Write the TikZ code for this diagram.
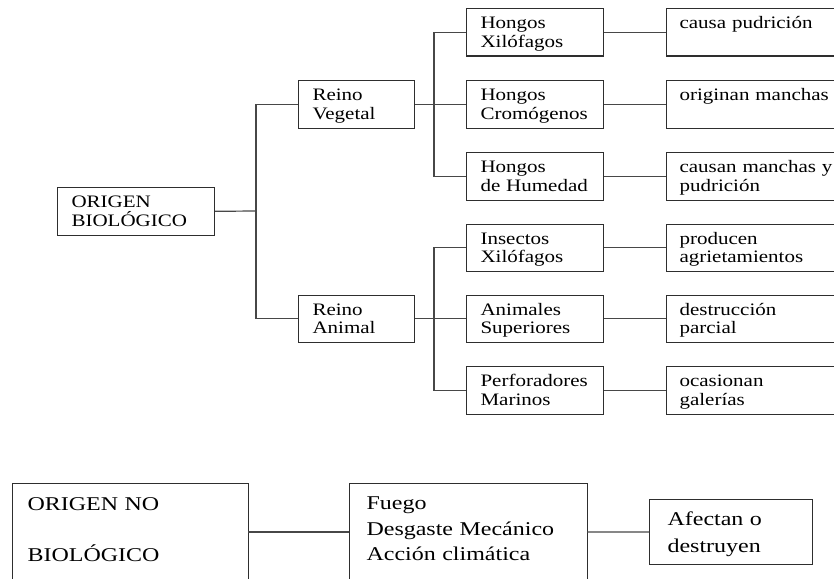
\documentclass[tikz,border=0pt]{standalone}
\usepackage{fontspec}
\setmainfont{Liberation Serif}[FakeStretch=1.2]
\newfontfamily\botfont{Liberation Serif}[FakeStretch=1.23]
\begin{document}
\begin{tikzpicture}[x=1pt,y=1pt,
  conn/.style={draw=black!72, line width=1.2pt},
  box/.style={draw=black!82, line width=1.1pt, anchor=north west, align=left,
    inner xsep=14pt, inner ysep=0pt, text height=20pt, text depth=27.5pt,
    font=\fontsize{17.5}{18.7}\selectfont},
  bbox/.style={draw=black!82, line width=1.1pt, anchor=north west, align=left,
    inner ysep=0pt, font=\botfont\fontsize{19.5}{25.5}\selectfont}
]
\useasboundingbox (0,0) rectangle (834,-578);
\clip (0,0) rectangle (834,-578);

% level 0
\node[box, text width=129pt] (ob) at (57,-187) {ORIGEN\\BIOLÓGICO};
% level 1
\node[box, text width=88pt] (rv) at (298,-80) {Reino\\Vegetal};
\node[box, text width=88pt] (ra) at (298,-294.5) {Reino\\Animal};
% level 2
\node[box, text width=109pt] (hx) at (466,-8) {Hongos\\Xilófagos};
\node[box, text width=109pt] (hc) at (466,-80) {Hongos\\Cromógenos};
\node[box, text width=109pt] (hh) at (466,-152) {Hongos\\de Humedad};
\node[box, text width=109pt] (ix) at (466,-223.5) {Insectos\\Xilófagos};
\node[box, text width=109pt] (as) at (466,-294.5) {Animales\\Superiores};
\node[box, text width=109pt] (pm) at (466,-366) {Perforadores\\Marinos};
% level 3
\node[box, inner xsep=13pt, text width=220pt] (e1) at (666,-8) {causa pudrición\\\mbox{}};
\node[box, inner xsep=13pt, text width=220pt] (e2) at (666,-80) {originan manchas\\\mbox{}};
\node[box, inner xsep=13pt, text width=220pt] (e3) at (666,-152) {causan manchas y\\pudrición};
\node[box, inner xsep=13pt, text width=220pt] (e4) at (666,-223.5) {producen\\agrietamientos};
\node[box, inner xsep=13pt, text width=220pt] (e5) at (666,-294.5) {destrucción\\parcial};
\node[box, inner xsep=13pt, text width=220pt] (e6) at (666,-366) {ocasionan\\galerías};

\coordinate (t0) at (256,-211);
\coordinate (tv) at (434,-103.5);
\coordinate (ta) at (434,-318);
\draw[conn] (ob.east) -- (t0);
\draw[conn] (rv.west) -| (t0) |- (ra.west);
\draw[conn] (rv.east) -- (hc.west);
\draw[conn] (hx.west) -| (tv) |- (hh.west);
\draw[conn] (ra.east) -- (as.west);
\draw[conn] (ix.west) -| (ta) |- (pm.west);
\draw[conn] (hx.east) -- (e1.west);
\draw[conn] (hc.east) -- (e2.west);
\draw[conn] (hh.east) -- (e3.west);
\draw[conn] (ix.east) -- (e4.west);
\draw[conn] (as.east) -- (e5.west);
\draw[conn] (pm.east) -- (e6.west);

% bottom part
\node[bbox, inner xsep=15pt, text width=206pt, text height=27pt, text depth=130pt] (nb) at (12,-483)
  {ORIGEN NO\\[25.5pt]BIOLÓGICO};
\node[bbox, inner xsep=17pt, text width=204pt, text height=26pt, text depth=130pt] (fu) at (349,-483)
  {Fuego\\Desgaste Mecánico\\Acción climática};
\node[bbox, inner xsep=18pt, text width=127pt, text height=26pt, text depth=39pt,
  font=\botfont\fontsize{19.5}{27}\selectfont] (af) at (649,-499)
  {Afectan o\\destruyen};
\coordinate (b1) at (248,-532);
\coordinate (b2) at (587,-532);
\draw[conn] (b1) -- (b1 -| fu.west);
\draw[conn] (b2) -- (af.west);
\end{tikzpicture}
\end{document}
